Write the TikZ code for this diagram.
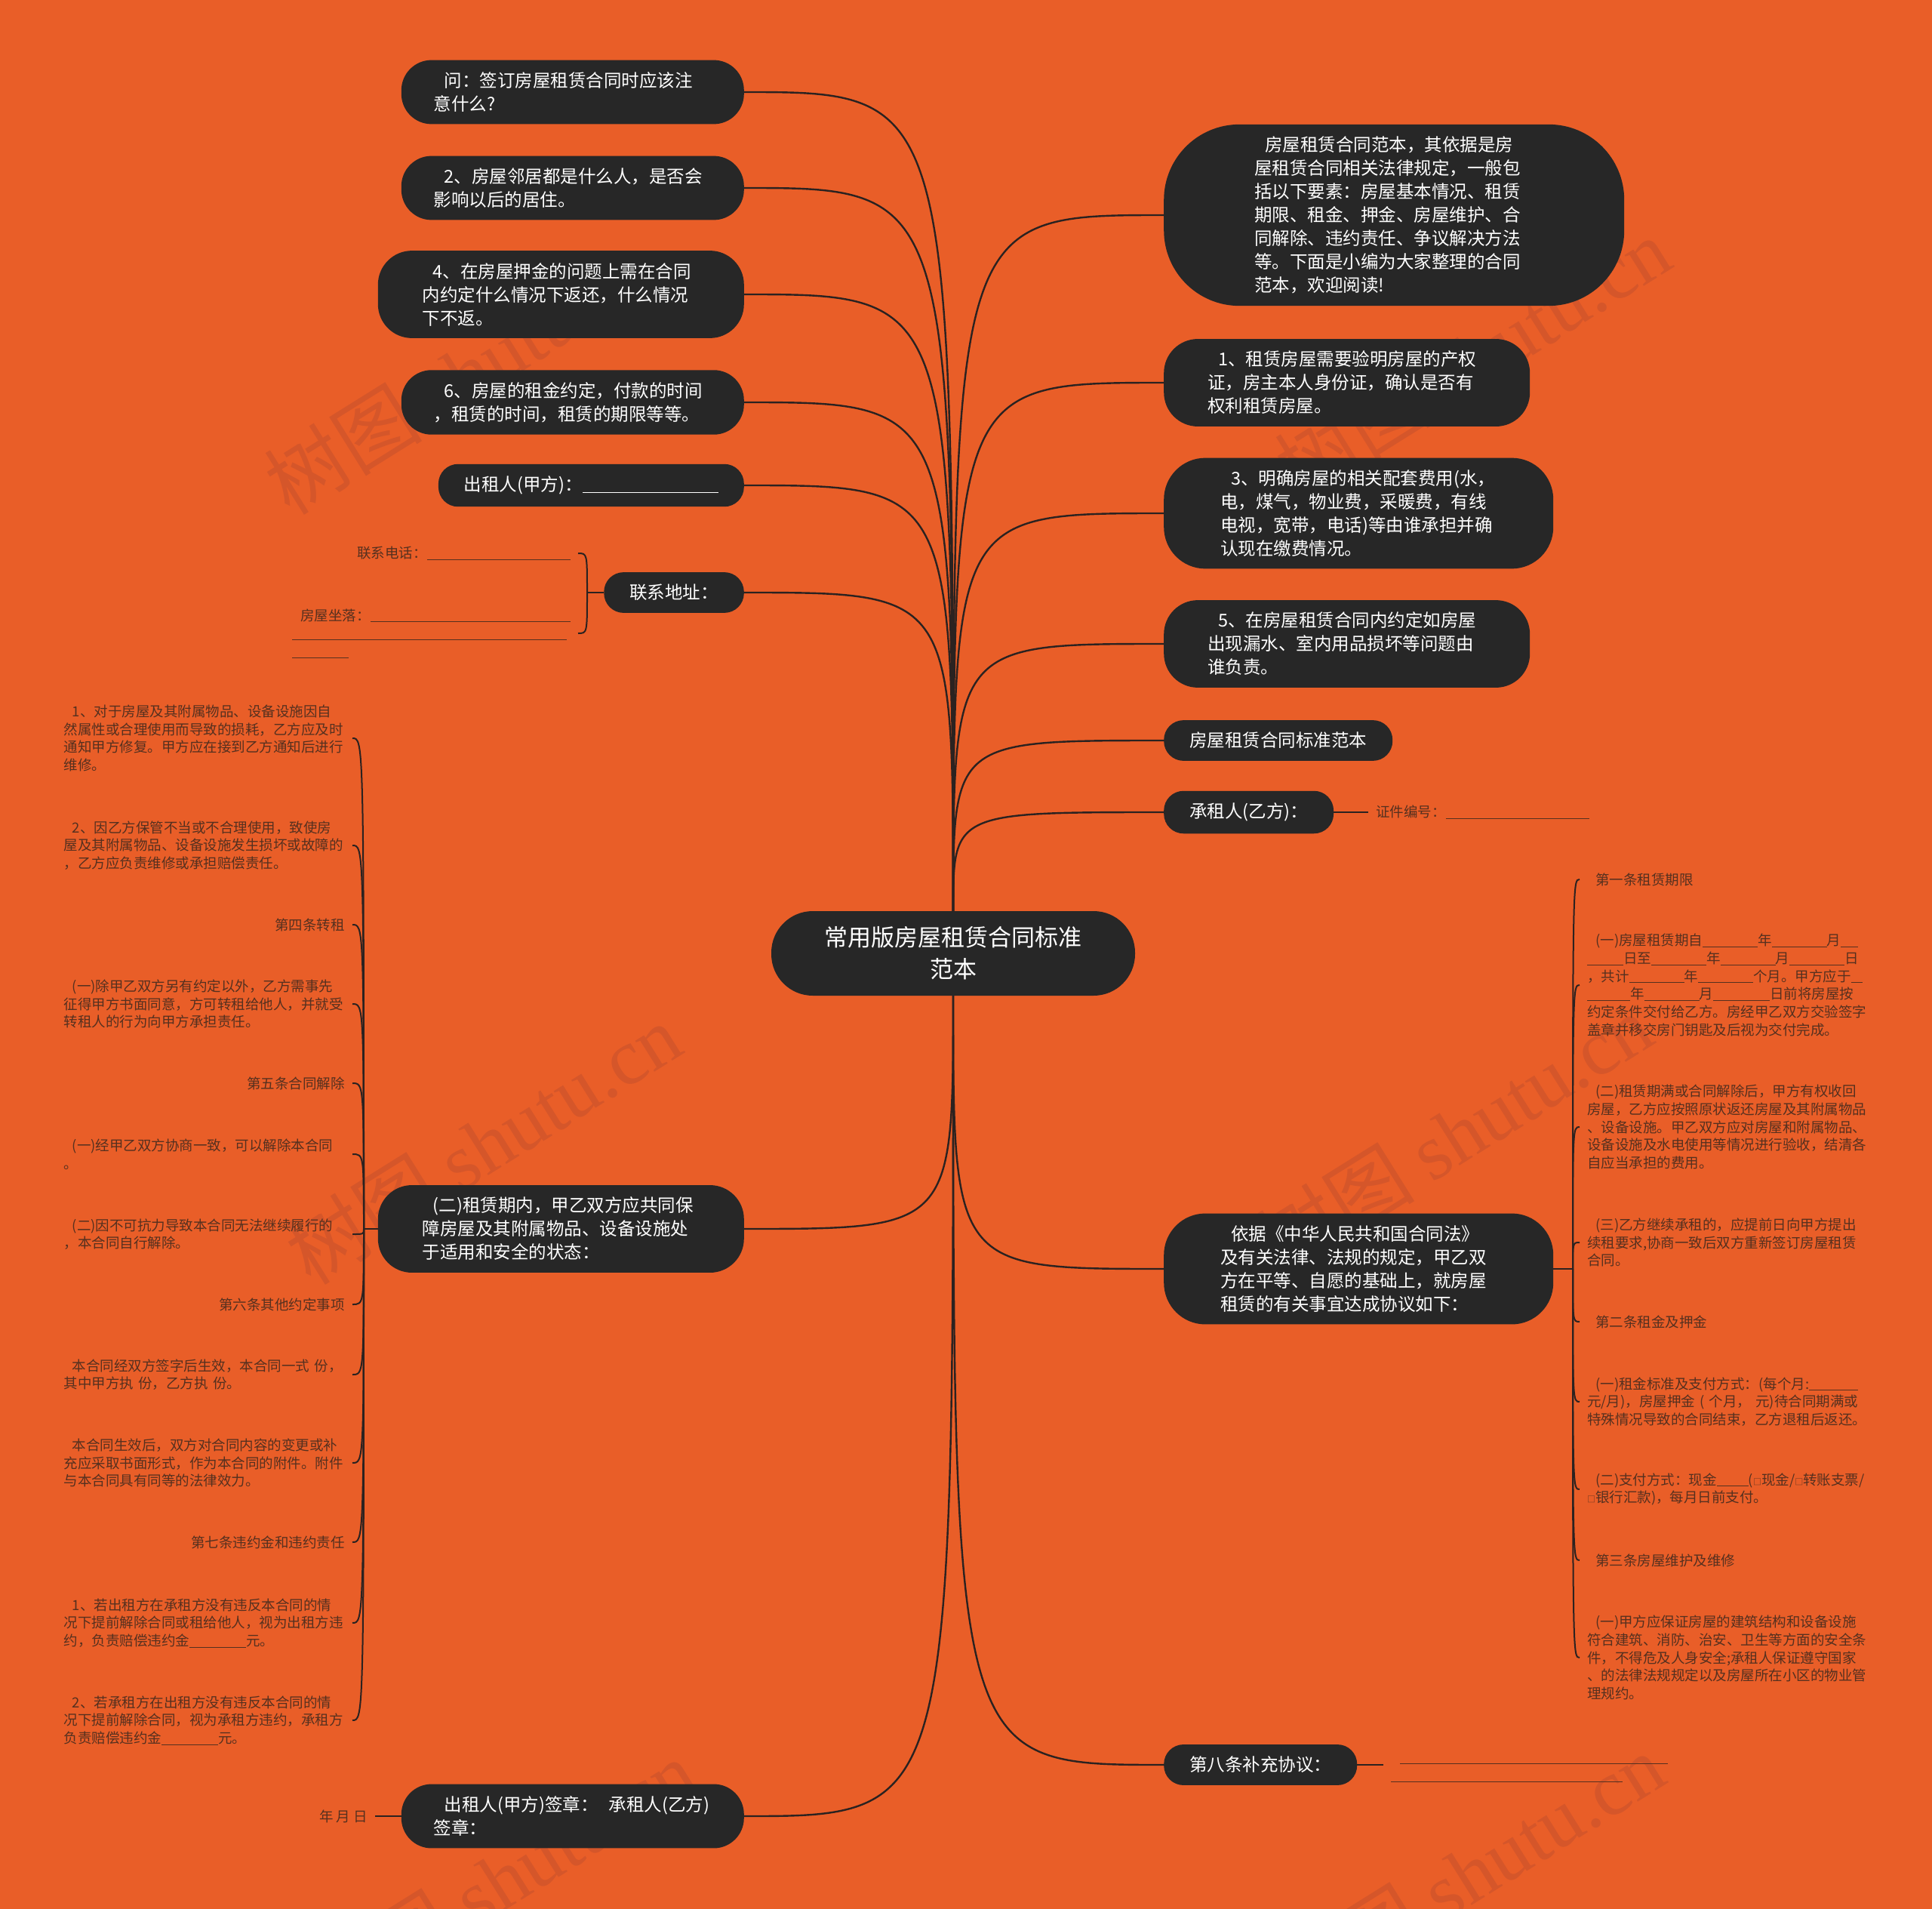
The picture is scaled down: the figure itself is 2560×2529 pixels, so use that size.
\documentclass[tikz,border=0pt]{standalone}
\usepackage{fontspec}
\setmainfont{Noto Sans CJK SC}
\newfontfamily\wmfont{Liberation Serif}

\definecolor{bgc}{HTML}{E95E28}
\definecolor{nodec}{HTML}{272727}
\definecolor{linec}{HTML}{2B2220}
\definecolor{leafc}{HTML}{55301F}
\definecolor{wmc}{HTML}{D5562A}

\newcommand\lead{\hspace*{0.6em}}
\newcommand\fillin[1]{\rule[-2pt]{#1pt}{0.9pt}}
\newcommand\boxsym{{\fontsize{11}{11}\selectfont □}}

\begin{document}
\begin{tikzpicture}[x=1pt, y=-1pt,
	topic/.style={fill=nodec, text=white, font=\fontsize{23.5}{31}\selectfont, align=left, inner ysep=16pt},
	leaf/.style={text=leafc, font=\fontsize{18.5}{23.7}\selectfont, inner xsep=10pt, inner ysep=2pt},
	lpara/.style={text width=372pt, align=left},
	lone/.style={align=right},
	branch/.style={draw=linec, line width=2.4pt},
	twig/.style={draw=linec, line width=2pt},
	wmark/.style={text=wmc, font=\fontsize{105}{105}\selectfont, rotate=32, inner sep=0pt}]
	\useasboundingbox (0,0) rectangle (2560,2529);
	\fill[bgc] (0,0) rectangle (2560,2529);
	\foreach \x/\y [count=\i] in {612/495, 640/1515, 660/2490, 1951/474, 1927/1502, 1943/2482} {
		\node[wmark] (wm\i) at (\x,\y) {树图 {\wmfont shutu.cn}};
	}

	\node[fill=nodec, text=white, font=\fontsize{31}{42}\selectfont, align=center, minimum width=482pt, minimum height=112pt, rounded corners=55pt] (root) at (1263,1263) {常用版房屋租赁合同标准\\范本};

	\node[topic, anchor=east, text width=368pt, inner xsep=43pt, rounded corners=40pt] (q1) at (986,122) {\lead 问：签订房屋租赁合同时应该注\\意什么?};
	\node[topic, anchor=east, text width=368pt, inner xsep=43pt, rounded corners=40pt] (q2) at (986,249) {\lead 2、房屋邻居都是什么人，是否会\\影响以后的居住。};
	\node[topic, anchor=east, text width=367pt, inner xsep=59pt, rounded corners=45pt] (q3) at (986,390) {\lead 4、在房屋押金的问题上需在合同\\内约定什么情况下返还，什么情况\\下不返。};
	\node[topic, anchor=east, text width=368pt, inner xsep=43pt, rounded corners=40pt] (q4) at (986,533) {\lead 6、房屋的租金约定，付款的时间\\，租赁的时间，租赁的期限等等。};
	\node[topic, anchor=east, inner xsep=34pt, rounded corners=26pt] (q5) at (986,643) {出租人(甲方)：\fillin{180}};
	\node[topic, anchor=east, inner xsep=34pt, rounded corners=26pt] (q6) at (986,785) {联系地址：};
	\node[topic, anchor=east, text width=367pt, inner xsep=59pt, rounded corners=45pt] (duty) at (986,1628) {\lead (二)租赁期内，甲乙双方应共同保\\障房屋及其附属物品、设备设施处\\于适用和安全的状态：};
	\node[topic, anchor=east, text width=368pt, inner xsep=43pt, rounded corners=40pt] (sign) at (986,2406) {\lead 出租人(甲方)签章：\hspace{14pt}承租人(乙方)\\签章：};

	\node[topic, anchor=west, text width=370pt, inner xsep=120pt, rounded corners=100pt] (r1) at (1542,285) {\lead 房屋租赁合同范本，其依据是房\\屋租赁合同相关法律规定，一般包\\括以下要素：房屋基本情况、租赁\\期限、租金、押金、房屋维护、合\\同解除、违约责任、争议解决方法\\等。下面是小编为大家整理的合同\\范本，欢迎阅读!};
	\node[topic, anchor=west, text width=369pt, inner xsep=58pt, rounded corners=45pt] (r2) at (1542,507) {\lead 1、租赁房屋需要验明房屋的产权\\证，房主本人身份证，确认是否有\\权利租赁房屋。};
	\node[topic, anchor=west, text width=366pt, inner xsep=75pt, rounded corners=55pt] (r3) at (1542,680) {\lead 3、明确房屋的相关配套费用(水，\\电，煤气，物业费，采暖费，有线\\电视，宽带，电话)等由谁承担并确\\认现在缴费情况。};
	\node[topic, anchor=west, text width=369pt, inner xsep=58pt, rounded corners=45pt] (r4) at (1542,853) {\lead 5、在房屋租赁合同内约定如房屋\\出现漏水、室内用品损坏等问题由\\谁负责。};
	\node[topic, anchor=west, inner xsep=34pt, rounded corners=26pt] (r5) at (1542,981) {房屋租赁合同标准范本};
	\node[topic, anchor=west, inner xsep=34pt, rounded corners=26pt] (r6) at (1542,1076) {承租人(乙方)：};
	\node[topic, anchor=west, text width=366pt, inner xsep=75pt, rounded corners=55pt] (r7) at (1542,1681) {\lead 依据《中华人民共和国合同法》\\及有关法律、法规的规定，甲乙双\\方在平等、自愿的基础上，就房屋\\租赁的有关事宜达成协议如下：};
	\node[topic, anchor=west, inner xsep=34pt, rounded corners=26pt] (r8) at (1542,2338) {第八条补充协议：};

	\foreach \n in {q1,q2,q3,q4,q5,q6}
		\draw[branch] (root.north) .. controls (root.north |- \n.east) and (root.north |- \n.east) .. (\n.east);
	\foreach \n in {r1,r2,r3,r4,r5,r6}
		\draw[branch] (root.north) .. controls (root.north |- \n.west) and (root.north |- \n.west) .. (\n.west);
	\foreach \n in {duty,sign}
		\draw[branch] (root.south) .. controls (root.south |- \n.east) and (root.south |- \n.east) .. (\n.east);
	\foreach \n in {r7,r8}
		\draw[branch] (root.south) .. controls (root.south |- \n.west) and (root.south |- \n.west) .. (\n.west);

	\coordinate (hk) at (778,785);
	\node[leaf, anchor=east] (k1) at (766,733) {联系电话：\fillin{190}};
	\node[leaf, align=left, anchor=east] (k2) at (766,839) {\hspace*{11pt}房屋坐落：\fillin{265}\\\fillin{364}\\\fillin{75}};
	\draw[twig] (q6.west) -- (hk);
	\foreach \n in {k1,k2}
		\draw[twig] (hk) .. controls (hk |- \n.east) .. (\n.east);

	\node[leaf, anchor=west] (idn) at (1813,1076) {证件编号：\fillin{190}};
	\draw[twig] (r6.east) -- (idn.west);
	\node[leaf, anchor=east] (ymd) at (497,2406) {年 月 日};
	\draw[twig] (sign.west) -- (ymd.east);
	\node[leaf, align=left, anchor=west] (sup) at (1833,2348) {\hspace*{12pt}\fillin{355}\\\fillin{307}};
	\draw[twig] (r8.east) -- (r8.east -| sup.west);

	\coordinate (hl) at (482,1628);
	\draw[twig] (duty.west) -- (hl);
	\foreach \n/\y/\s/\txt in {
		c1/978/lpara/{\lead 1、对于房屋及其附属物品、设备设施因自\\然属性或合理使用而导致的损耗，乙方应及时\\通知甲方修复。甲方应在接到乙方通知后进行\\维修。},
		c2/1120/lpara/{\lead 2、因乙方保管不当或不合理使用，致使房\\屋及其附属物品、设备设施发生损坏或故障的\\，乙方应负责维修或承担赔偿责任。},
		c3/1225/lone/{第四条转租},
		c4/1330/lpara/{\lead (一)除甲乙双方另有约定以外，乙方需事先\\征得甲方书面同意，方可转租给他人，并就受\\转租人的行为向甲方承担责任。},
		c5/1435/lone/{第五条合同解除},
		c6/1529/lpara/{\lead (一)经甲乙双方协商一致，可以解除本合同\\。},
		c7/1635/lpara/{\lead (二)因不可抗力导致本合同无法继续履行的\\，本合同自行解除。},
		c8/1728/lone/{第六条其他约定事项},
		c9/1821/lpara/{\lead 本合同经双方签字后生效，本合同一式 份，\\其中甲方执 份，乙方执 份。},
		c10/1938/lpara/{\lead 本合同生效后，双方对合同内容的变更或补\\充应采取书面形式，作为本合同的附件。附件\\与本合同具有同等的法律效力。},
		c11/2043/lone/{第七条违约金和违约责任},
		c12/2150/lpara/{\lead 1、若出租方在承租方没有违反本合同的情\\况下提前解除合同或租给他人，视为出租方违\\约，负责赔偿违约金\fillin{75}元。},
		c13/2279/lpara/{\lead 2、若承租方在出租方没有违反本合同的情\\况下提前解除合同，视为承租方违约，承租方\\负责赔偿违约金\fillin{75}元。}} {
		\node[leaf, \s, anchor=east] (\n) at (467,\y) {\txt};
		\draw[twig] (hl) .. controls (hl |- \n.east) .. (\n.east);
	}

	\coordinate (hr) at (2084,1681);
	\draw[twig] (r7.east) -- (hr);
	\foreach \n/\y/\txt in {
		d1/1165/{\lead 第一条租赁期限},
		d2/1305/{\lead (一)房屋租赁期自\fillin{73}年\fillin{73}月\fillin{23}\\\fillin{48}日至\fillin{73}年\fillin{73}月\fillin{73}日\\，共计\fillin{73}年\fillin{73}个月。甲方应于\fillin{15}\\\fillin{57}年\fillin{73}月\fillin{75}日前将房屋按\\约定条件交付给乙方。房经甲乙双方交验签字\\盖章并移交房门钥匙及后视为交付完成。},
		d3/1493/{\lead (二)租赁期满或合同解除后，甲方有权收回\\房屋，乙方应按照原状返还房屋及其附属物品\\、设备设施。甲乙双方应对房屋和附属物品、\\设备设施及水电使用等情况进行验收，结清各\\自应当承担的费用。},
		d4/1646/{\lead (三)乙方继续承租的，应提前日向甲方提出\\续租要求,协商一致后双方重新签订房屋租赁\\合同。},
		d5/1751/{\lead 第二条租金及押金},
		d6/1857/{\lead (一)租金标准及支付方式：(每个月:\fillin{65}\\元/月)，房屋押金 ( 个月， 元)待合同期满或\\特殊情况导致的合同结束，乙方退租后返还。},
		d7/1973/{\lead (二)支付方式：现金\fillin{42}(\boxsym 现金/\boxsym 转账支票/\\\boxsym 银行汇款)，每月日前支付。},
		d8/2067/{\lead 第三条房屋维护及维修},
		d9/2196/{\lead (一)甲方应保证房屋的建筑结构和设备设施\\符合建筑、消防、治安、卫生等方面的安全条\\件，不得危及人身安全;承租人保证遵守国家\\、的法律法规规定以及房屋所在小区的物业管\\理规约。}} {
		\node[leaf, lpara, anchor=west] (\n) at (2093,\y) {\txt};
		\draw[twig] (hr) .. controls (hr |- \n.west) .. (\n.west);
	}
\end{tikzpicture}
\end{document}
